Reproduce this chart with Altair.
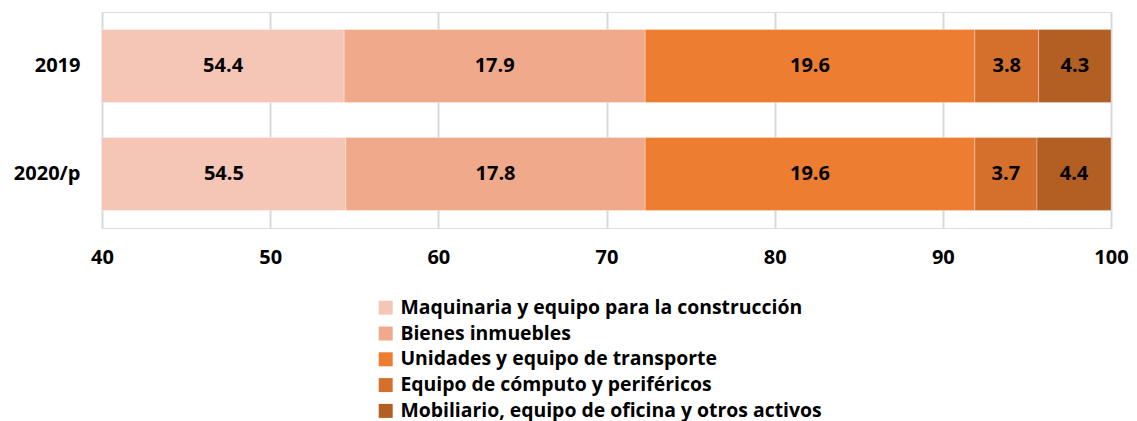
import altair as alt
import pandas as pd

years = ["2019", "2020/p"]
categories = [
    "Maquinaria y equipo para la construcción",
    "Bienes inmuebles",
    "Unidades y equipo de transporte",
    "Equipo de cómputo y periféricos",
    "Mobiliario, equipo de oficina y otros activos",
]
colors = ["#F5C6B6", "#F0A98A", "#ED7D31", "#D46F2C", "#B35E22"]
values_2019 = [54.4, 17.9, 19.6, 3.8, 4.3]
values_2020 = [54.5, 17.8, 19.6, 3.7, 4.4]

rows = []
for y, vals in zip(years, [values_2019, values_2020]):
    for i, (c, v) in enumerate(zip(categories, vals)):
        rows.append({"year": y, "category": c, "value": v, "order": i})
df = pd.DataFrame(rows)

FONT = "Open Sans"
AX_SIZE = 20
LEG_SIZE = 19.4

base = alt.Chart(df).transform_stack(
    stack="value", groupby=["year"], as_=["x0", "x1"], sort=[alt.SortField("order")]
).transform_calculate(
    mid="(max(datum.x0, 40) + datum.x1) / 2",
    label="format(datum.value, '.1f')",
)

yenc = alt.Y(
    "year:N",
    sort=years,
    title=None,
    scale=alt.Scale(paddingInner=0.324, paddingOuter=0.162),
    axis=alt.Axis(
        labelFont=FONT, labelFontSize=AX_SIZE, labelFontWeight="bold", labelColor="#000000",
        labelPadding=22, ticks=False, domain=False,
    ),
)

bars = base.mark_bar(clip=True, stroke="#FFFFFF", strokeWidth=0.6, strokeOpacity=0.5).encode(
    x=alt.X(
        "x0:Q",
        title=None,
        scale=alt.Scale(domain=[40, 100], nice=False, zero=False),
        axis=alt.Axis(
            values=[40, 50, 60, 70, 80, 90, 100],
            labelFont=FONT, labelFontSize=AX_SIZE, labelFontWeight="bold", labelColor="#000000",
            labelPadding=19, ticks=False, domain=False, labelFlush=False,
            grid=True, gridColor="#D9D9D9", gridWidth=2,
        ),
    ),
    x2="x1:Q",
    y=yenc,
    color=alt.Color(
        "category:N",
        scale=alt.Scale(domain=categories, range=colors),
        sort=categories,
        legend=alt.Legend(
            title=None, orient="none", legendX=274, legendY=286, direction="vertical",
            symbolType="square", symbolSize=196, symbolStrokeWidth=0, symbolOpacity=1,
            labelFont=FONT, labelFontSize=LEG_SIZE, labelFontWeight="bold", labelColor="#000000",
            rowPadding=4.8, labelOffset=5, labelLimit=700,
        ),
    ),
    order=alt.Order("order:Q"),
)

texts = base.mark_text(
    font=FONT, fontSize=AX_SIZE, fontWeight="bold", color="#000000", baseline="middle", align="center"
).encode(
    x=alt.X("mid:Q"),
    y=alt.Y("year:N", sort=years),
    text="label:N",
)

chart = alt.layer(bars, texts).properties(
    width=1009,
    height=216,
    autosize=alt.AutoSizeParams(type="none"),
    padding={"left": 94, "top": 4, "right": 18, "bottom": 193},
).configure_view(stroke=None).configure(background="#FFFFFF")

chart.save("out.html", embed_options={"renderer": "svg", "actions": False})
